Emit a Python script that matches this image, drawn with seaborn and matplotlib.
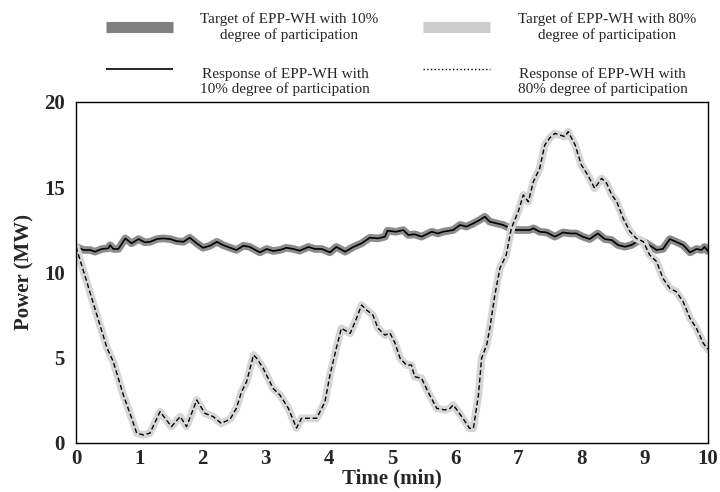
import matplotlib
matplotlib.use("Agg")
import matplotlib.pyplot as plt
from matplotlib.lines import Line2D
from matplotlib.legend_handler import HandlerLine2D
import pandas as pd
import seaborn as sns

sns.set_style("white")
plt.rcParams['font.family'] = ['Liberation Serif', 'DejaVu Serif']

# EPP-WH with 10% degree of participation (target and response overlap)
time_10 = [0, 0.12, 0.22, 0.30, 0.41, 0.51, 0.54, 0.59, 0.67, 0.78, 0.88, 0.99, 1.09, 1.17,
           1.28, 1.38, 1.49, 1.59, 1.70, 1.80, 1.91, 2.01, 2.12, 2.23, 2.33, 2.44, 2.54, 2.65,
           2.75, 2.91, 3.02, 3.12, 3.23, 3.33, 3.44, 3.54, 3.68, 3.78, 3.89, 4.02, 4.12, 4.26,
           4.39, 4.52, 4.65, 4.78, 4.89,
           4.93, 5.07, 5.18, 5.26, 5.36, 5.47, 5.63, 5.73, 5.81, 5.97, 6.08, 6.18, 6.29, 6.39,
           6.47, 6.55, 6.66, 6.76, 6.87, 6.97, 7.18, 7.24, 7.34, 7.45, 7.58, 7.71, 7.82, 7.92,
           8.02, 8.13, 8.26, 8.37, 8.48, 8.58, 8.69, 8.79, 8.92, 9.03, 9.19, 9.29, 9.40, 9.50,
           9.61, 9.72, 9.82, 9.90, 9.95, 10.0]
power_10 = [11.5, 11.32, 11.32, 11.22, 11.38, 11.42, 11.6, 11.38, 11.38, 12.0, 11.71, 11.96, 11.77, 11.8,
            11.96, 12.0, 11.96, 11.84, 11.8, 12.04, 11.71, 11.45, 11.57, 11.8, 11.6, 11.45, 11.32, 11.57,
            11.5, 11.18, 11.38, 11.26, 11.32, 11.45, 11.38, 11.28, 11.5, 11.38, 11.38, 11.18, 11.5, 11.22,
            11.5, 11.71, 12.04, 12.0, 12.1,
            12.45, 12.39, 12.49, 12.2, 12.24, 12.1, 12.39, 12.29, 12.39, 12.49, 12.79, 12.69, 12.88, 13.08,
            13.27, 12.98, 12.88, 12.79, 12.59, 12.49, 12.49, 12.59, 12.39, 12.35, 12.1, 12.35, 12.29, 12.29,
            12.1, 11.96, 12.29, 11.96, 11.9, 11.61, 11.51, 11.61, 11.9, 11.71, 11.32, 11.38, 11.96, 11.8,
            11.61, 11.18, 11.38, 11.32, 11.5, 11.26]

# EPP-WH with 80% degree of participation
time_80 = [0, 0.17, 0.33, 0.49, 0.59, 0.75, 0.88, 0.96, 1.07, 1.17, 1.33, 1.51, 1.65, 1.75, 1.91,
           2.04, 2.17, 2.30, 2.44, 2.54, 2.62, 2.70, 2.81, 2.86, 2.96, 3.12, 3.23, 3.36, 3.49, 3.57,
           3.68, 3.81, 3.94, 4.02, 4.12, 4.20, 4.34, 4.44, 4.52, 4.60, 4.70, 4.78, 4.89, 4.97, 5.05,
           5.13, 5.23, 5.31, 5.36, 5.47, 5.57, 5.71, 5.84, 5.92, 5.97, 6.05, 6.16, 6.23, 6.29, 6.37,
           6.42, 6.50, 6.55, 6.63, 6.71, 6.81, 6.89, 7.00, 7.08, 7.16, 7.24, 7.34, 7.42, 7.50, 7.58,
           7.66, 7.74, 7.79, 7.90, 8.00, 8.10, 8.21, 8.32, 8.40, 8.48, 8.56, 8.66, 8.77, 8.87, 8.98,
           9.08, 9.19, 9.29, 9.40, 9.50, 9.61, 9.72, 9.82, 9.93, 10.0]
power_80 = [11.5, 9.46, 7.5, 5.57, 4.77, 2.8, 1.46, 0.58, 0.47, 0.58, 1.84, 0.96, 1.55, 0.96, 2.52,
            1.74, 1.55, 1.15, 1.4, 2.05, 3.0, 3.6, 5.16, 4.97, 4.4, 3.2, 2.8, 2.04, 0.88, 1.45,
            1.45, 1.45, 2.42, 3.99, 5.55, 6.73, 6.43, 7.31, 8.09, 7.8, 7.5, 6.73, 6.33, 6.45, 5.85,
            4.97, 4.57, 4.57, 3.89, 3.79, 3.01, 2.03, 1.94, 2.03, 2.23, 1.84, 1.25, 0.86, 0.86, 2.81,
            4.97, 5.75, 6.73, 8.68, 10.25, 11.03, 12.59, 13.57, 14.55, 14.15, 15.33, 16.11, 17.48, 17.9, 18.16,
            18.06, 17.97, 18.26, 17.48, 16.3, 15.72, 14.94, 15.52, 15.23, 14.55, 14.15, 13.18, 12.39, 12.0, 11.81,
            11.03, 10.64, 9.66, 9.07, 8.88, 8.29, 7.31, 6.73, 5.85, 5.5]

labels = ["Target of EPP-WH with 10%\ndegree of participation",
          "Response of EPP-WH with\n10% degree of participation",
          "Target of EPP-WH with 80%\ndegree of participation",
          "Response of EPP-WH with\n80% degree of participation"]


class RaisedLine(HandlerLine2D):
    # response handles sit level with the first text line, not the middle
    def create_artists(self, legend, orig_handle, xdescent, ydescent, width, height, fontsize, trans):
        arts = super().create_artists(legend, orig_handle, xdescent, ydescent, width, height, fontsize, trans)
        for a in arts:
            a.set_ydata([y + 0.8 * fontsize for y in a.get_ydata()])
        return arts


df10 = pd.DataFrame({'time': time_10, 'power': power_10})
df80 = pd.DataFrame({'time': time_80, 'power': power_80})

fig, ax = plt.subplots(figsize=(7.2, 4.92), dpi=100)
fig.subplots_adjust(left=0.1056, right=0.983, bottom=0.0996, top=0.7927)

# targets as thick gray bands, responses drawn on top
sns.lineplot(data=df10, x='time', y='power', ax=ax, color='#8c8c8c', lw=5.5)
sns.lineplot(data=df10, x='time', y='power', ax=ax, color='black', lw=1.2)
sns.lineplot(data=df80, x='time', y='power', ax=ax, color='#d6d6d6', lw=5.5)
sns.lineplot(data=df80, x='time', y='power', ax=ax, color='black', lw=1.0, linestyle=(0, (3.5, 2)))

ax.set_xlim(0, 10)
ax.set_ylim(0, 20)
ax.set_xticks(range(0, 11))
ax.set_yticks([0, 5, 10, 15, 20])
ax.tick_params(axis='x', length=0, labelsize=15, pad=4)
ax.tick_params(axis='y', length=0, labelsize=15, pad=8)
for lab in ax.get_xticklabels() + ax.get_yticklabels():
    lab.set_fontweight('bold')
ax.set_xlabel('Time (min)', fontsize=15, fontweight='bold', labelpad=0)
ax.set_ylabel('Power (MW)', fontsize=15, fontweight='bold', labelpad=7)
for sp in ax.spines.values():
    sp.set_color('black')
    sp.set_linewidth(1.0)

handles = [Line2D([], [], color='#808080', lw=8, solid_capstyle='butt'),
           Line2D([], [], color='black', lw=1.2, solid_capstyle='butt'),
           Line2D([], [], color='#cccccc', lw=8, solid_capstyle='butt'),
           Line2D([], [], color='black', lw=1.0, linestyle=':')]
leg = fig.legend(handles, labels, ncol=2, loc='upper left', bbox_to_anchor=(0.136, 0.99),
                 frameon=False, fontsize=11, handlelength=4.4, handletextpad=1.8,
                 columnspacing=2.9, labelspacing=1.6, borderpad=0,
                 handler_map={handles[1]: RaisedLine(), handles[3]: RaisedLine()})
for txt in leg.get_texts():
    txt.set_multialignment('center')

fig.savefig('out.png', dpi=100)
